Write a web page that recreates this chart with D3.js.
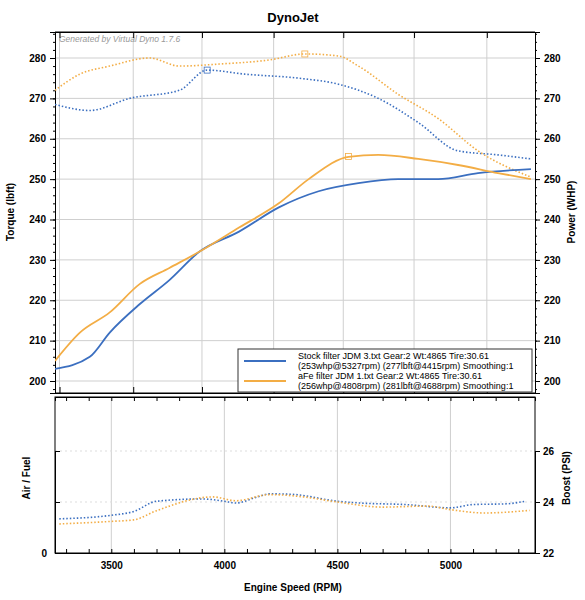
<!DOCTYPE html>
<html><head><meta charset="utf-8">
<script src="https://cdn.jsdelivr.net/npm/d3@7"></script>
<style>body{margin:0;background:#fff;font-family:"Liberation Sans",Arial,sans-serif}</style>
</head><body><svg id="c" width="585" height="600"></svg>
<script>
const rpmTicks = [3500, 4000, 4500, 5000]
const topGridRpm = [3271, 3597, 3901, 4218, 4526, 4839, 5161]
const torqueTicks = [200, 210, 220, 230, 240, 250, 260, 270, 280]
const boostTicks = [22, 24, 26]

const stockTorque = [[3251,268.5],[3405,267],[3581,270],[3801,272],[3924,277],[4091,276],[4329,275],[4505,273.5],[4681,270],[4858,264],[5034,257],[5210,256],[5356,255]]
const afeTorque = [[3251,272],[3361,276],[3493,278],[3669,280],[3801,278],[3977,278.5],[4197,279.5],[4356,281],[4505,280.5],[4593,278],[4769,271],[4946,265],[5122,257],[5356,250.5]]
const stockPower = [[3251,203],[3405,206],[3493,212],[3625,219],[3757,225],[3889,232],[4065,237],[4241,243],[4417,247],[4593,249],[4769,250],[4946,250],[5122,251.5],[5356,252.5]]
const afePower = [[3251,205],[3361,212],[3493,217],[3625,224],[3757,228],[3889,232],[4065,238],[4241,244],[4373,250],[4549,255.5],[4681,256],[4858,255],[5034,253.5],[5210,251.5],[5356,250]]
const stockBoost = [[3270,23.34],[3500,23.48],[3600,23.63],[3700,24.03],[3900,24.12],[4000,24.03],[4050,23.96],[4150,24.21],[4200,24.32],[4300,24.3],[4500,24.03],[4600,23.96],[4800,23.9],[5000,23.77],[5100,23.9],[5250,23.93],[5330,24.03]]
const afeBoost = [[3270,23.14],[3500,23.24],[3600,23.3],[3700,23.66],[3950,24.2],[4050,24.05],[4200,24.29],[4350,24.2],[4500,24.0],[4700,23.8],[4900,23.84],[5000,23.7],[5150,23.57],[5350,23.67]]
const peaks = [{s:'afe',d:[4356,281]},{s:'stock',d:[3924,277]},{s:'afe',d:[4549,255.6]}]
const legend = [
  {c:'stock', l1:'Stock filter JDM 3.txt Gear:2 Wt:4865 Tire:30.61', l2:'(253whp@5327rpm) (277lbft@4415rpm) Smoothing:1'},
  {c:'afe', l1:'aFe filter JDM 1.txt Gear:2 Wt:4865 Tire:30.61', l2:'(256whp@4808rpm) (281lbft@4688rpm) Smoothing:1'}]
const colors = {stock:'#3b6fc0', afe:'#f3ad45'}

const svg = d3.select('#c')
const L = 55, R = 535
const x = d3.scaleLinear().domain([3251, 5374]).range([L, R])
const y = d3.scaleLinear().domain([200, 280]).range([381, 58])
const yb = d3.scaleLinear().domain([22, 26]).range([553, 451])
const pTop = 32, pBot = 393, btop = 397, bbot = 553

svg.append('text').attr('x', 293).attr('y', 22).attr('text-anchor', 'middle')
  .attr('font-size', 13).attr('font-weight', 'bold').text('DynoJet')

// top panel grid
const g = svg.append('g')
g.selectAll('.vg').data(topGridRpm).join('line').attr('x1', d => x(d)).attr('x2', d => x(d))
  .attr('y1', pTop).attr('y2', pBot).attr('stroke', '#cfcfcf')
g.selectAll('.hg').data(torqueTicks).join('line').attr('x1', L).attr('x2', R)
  .attr('y1', d => y(d)).attr('y2', d => y(d)).attr('stroke', '#cfcfcf')
g.append('text').attr('x', L + 4).attr('y', pTop + 10).attr('font-size', 8.5).attr('font-style', 'italic')
  .attr('fill', '#999').text('Generated by Virtual Dyno 1.7.6')

const yFull = d3.scaleLinear().domain([y.invert(pBot), y.invert(pTop)]).range([pBot, pTop])
const axL = svg.append('g').attr('transform', `translate(${L},0)`)
  .call(d3.axisLeft(yFull).tickValues(torqueTicks).tickSize(5).tickPadding(4))
axL.append('g').call(d3.axisLeft(yFull).ticks(45).tickSize(2).tickFormat(''))
const axR = svg.append('g').attr('transform', `translate(${R},0)`)
  .call(d3.axisRight(yFull).tickValues(torqueTicks).tickSize(5).tickPadding(4))
axR.append('g').call(d3.axisRight(yFull).ticks(45).tickSize(2).tickFormat(''))
svg.append('g').attr('transform', `translate(0,${pBot})`)
  .call(d3.axisTop(x).tickValues(topGridRpm).tickSize(6).tickFormat(''))
svg.append('g').attr('transform', `translate(0,${pTop})`)
  .call(d3.axisBottom(x).tickValues(topGridRpm).tickSize(6).tickFormat(''))
svg.append('line').attr('x1', L).attr('x2', R).attr('y1', pTop).attr('y2', pTop).attr('stroke', '#000')
svg.append('line').attr('x1', L).attr('x2', R).attr('y1', pBot).attr('y2', pBot).attr('stroke', '#000')

const line = d3.line().x(d => x(d[0])).y(d => y(d[1])).curve(d3.curveMonotoneX)
svg.append('clipPath').attr('id', 'cp').append('rect').attr('x', L).attr('y', pTop).attr('width', R - L).attr('height', pBot - pTop)
const pl = svg.append('g').attr('clip-path', 'url(#cp)')
;[[stockTorque,'stock',true],[afeTorque,'afe',true],[stockPower,'stock',false],[afePower,'afe',false]].forEach(([d,s,dot]) => {
  pl.append('path').attr('d', line(d)).attr('fill', 'none').attr('stroke', colors[s])
    .attr('stroke-width', dot ? 1.6 : 1.8).attr('stroke-dasharray', dot ? '1.5,2' : null)
})
pl.selectAll('.pk').data(peaks).join('rect').attr('x', d => x(d.d[0]) - 3).attr('y', d => y(d.d[1]) - 3)
  .attr('width', 6).attr('height', 6).attr('fill', 'none').attr('stroke', d => colors[d.s]).attr('stroke-width', 0.8)

// legend
const lg = svg.append('g').attr('transform', 'translate(238,349)')
lg.append('rect').attr('width', 294).attr('height', 43).attr('fill', '#fff').attr('stroke', '#333')
legend.forEach((d, i) => {
  const ly = 10 + i * 20
  lg.append('line').attr('x1', 6).attr('x2', 48).attr('y1', ly + 2).attr('y2', ly + 2).attr('stroke', colors[d.c]).attr('stroke-width', 2)
  lg.append('text').attr('x', 60).attr('y', ly).attr('font-size', 9).text(d.l1)
  lg.append('text').attr('x', 60).attr('y', ly + 10).attr('font-size', 9).text(d.l2)
})

svg.append('text').attr('transform', 'translate(14,212) rotate(-90)').attr('text-anchor', 'middle')
  .attr('font-size', 10).attr('font-weight', 'bold').text('Torque (lbft)')
svg.append('text').attr('transform', 'translate(575,212) rotate(-90)').attr('text-anchor', 'middle')
  .attr('font-size', 10).attr('font-weight', 'bold').text('Power (WHP)')

// bottom panel
const b = svg.append('g')
b.selectAll('.bv').data(rpmTicks).join('line').attr('x1', d => x(d)).attr('x2', d => x(d))
  .attr('y1', btop).attr('y2', bbot).attr('stroke', '#cfcfcf')
b.selectAll('.bh').data([24, 26]).join('line').attr('x1', L).attr('x2', R)
  .attr('y1', d => yb(d)).attr('y2', d => yb(d)).attr('stroke', '#ddd').attr('stroke-dasharray', '2,3')
b.append('rect').attr('x', L).attr('y', btop).attr('width', R - L).attr('height', bbot - btop).attr('fill', 'none').attr('stroke', '#000')
svg.append('g').attr('transform', `translate(0,${bbot})`)
  .call(d3.axisBottom(x).tickValues(rpmTicks).tickSize(0).tickPadding(9).tickFormat(d3.format('d')))
svg.append('g').attr('transform', `translate(0,${bbot})`)
  .call(d3.axisTop(x).ticks(20).tickSize(4).tickFormat(''))
svg.append('g').attr('transform', `translate(0,${btop})`)
  .call(d3.axisBottom(x).ticks(20).tickSize(4).tickFormat(''))
svg.append('g').attr('transform', `translate(${R},0)`)
  .call(d3.axisRight(yb).tickValues(boostTicks).tickSize(5).tickPadding(3).tickFormat(d3.format('d')))
svg.append('g').attr('transform', `translate(${L},0)`)
  .call(d3.axisLeft(yb).tickValues(boostTicks).tickSize(-5).tickPadding(8).tickFormat(d => d === 22 ? '0' : ''))
const bl = d3.line().x(d => x(d[0])).y(d => yb(d[1])).curve(d3.curveMonotoneX)
;[[stockBoost,'stock'],[afeBoost,'afe']].forEach(([d,s]) => {
  b.append('path').attr('d', bl(d)).attr('fill', 'none').attr('stroke', colors[s]).attr('stroke-width', 1.6).attr('stroke-dasharray', '1.5,2')
})
svg.append('text').attr('x', 293).attr('y', 591).attr('text-anchor', 'middle').attr('font-size', 10).attr('font-weight', 'bold').text('Engine Speed (RPM)')
svg.append('text').attr('transform', 'translate(30,478) rotate(-90)').attr('text-anchor', 'middle')
  .attr('font-size', 10).attr('font-weight', 'bold').text('Air / Fuel')
svg.append('text').attr('transform', 'translate(570,478) rotate(-90)').attr('text-anchor', 'middle')
  .attr('font-size', 10).attr('font-weight', 'bold').text('Boost (PSI)')
svg.selectAll('.tick text').attr('font-size', 10).attr('font-weight', 'bold').attr('font-family', 'Liberation Sans, Arial')
svg.selectAll('.domain').attr('stroke', '#000')
</script></body></html>
